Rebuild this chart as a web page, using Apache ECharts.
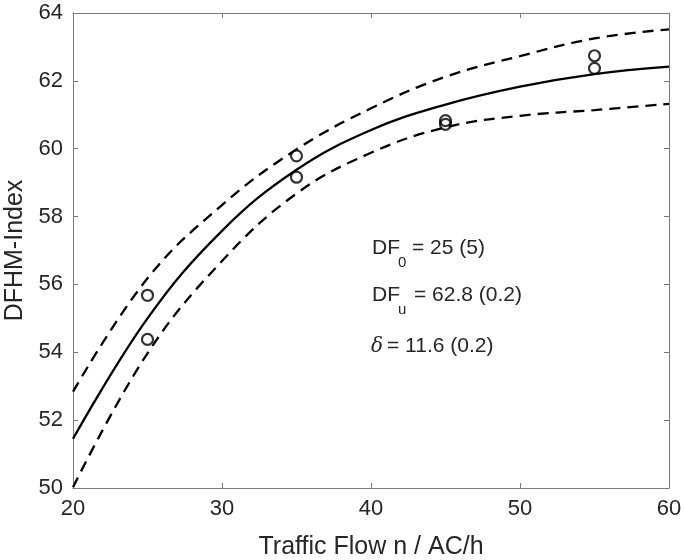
<!DOCTYPE html>
<html>
<head>
<meta charset="utf-8">
<script src="https://cdn.jsdelivr.net/npm/echarts@6/dist/echarts.min.js"></script>
<style>html,body{margin:0;padding:0;background:#fff}#c{width:685px;height:560px}</style>
</head>
<body>
<div id="c"></div>
<script>
const flowX = [20, 25, 30, 35, 40, 45, 50, 55, 60];
const fitMid = [51.45, 55.0, 57.58, 59.38, 60.55, 61.3, 61.83, 62.2, 62.42];
const fitUpper = [52.84, 56.18, 58.34, 59.98, 61.19, 62.12, 62.73, 63.25, 63.52];
const fitLower = [50.02, 53.97, 56.69, 58.68, 59.88, 60.63, 60.97, 61.14, 61.32];
const obsX = [25, 25, 35, 35, 45, 45, 55, 55];
const obsY = [55.68, 54.38, 59.79, 59.16, 60.83, 60.72, 62.74, 62.37];
const xTicks = [20, 30, 40, 50, 60];
const yTicks = [50, 52, 54, 56, 58, 60, 62, 64];
const xName = 'Traffic Flow n / AC/h';
const yName = 'DFHM-Index';
const params = [
  {main: 'DF', sub: '0', rest: '= 25 (5)'},
  {main: 'DF', sub: 'u', rest: '= 62.8 (0.2)'},
  {main: 'δ', sub: '', rest: '= 11.6 (0.2)'}
];

const pair = (xs, ys) => xs.map((x, i) => [x, ys[i]]);
const FONT = 'Liberation Sans, Arial, Helvetica, sans-serif';
const axisCol = '#7a7a7a';
const txtCol = '#262626';

const chart = echarts.init(document.getElementById('c'), null, {renderer: 'canvas'});

const baseX = {
  type: 'value', min: xTicks[0], max: xTicks[xTicks.length - 1], interval: 10,
  axisLine: {show: true, onZero: false, lineStyle: {color: axisCol, width: 1}},
  axisTick: {show: true, inside: true, length: 5, lineStyle: {color: axisCol}},
  splitLine: {show: false}
};
const baseY = {
  type: 'value', min: yTicks[0], max: yTicks[yTicks.length - 1], interval: 2,
  axisLine: {show: true, onZero: false, lineStyle: {color: axisCol, width: 1}},
  axisTick: {show: true, inside: true, length: 5, lineStyle: {color: axisCol}},
  splitLine: {show: false}
};

const graphics = [];
const rowY = [248, 295.5, 346];
params.forEach((p, i) => {
  const y = rowY[i];
  if (p.sub) {
    graphics.push({type: 'text', x: 372, y: y, style: {text: p.main, font: '21px ' + FONT, fill: txtCol, align: 'left', verticalAlign: 'middle'}});
    graphics.push({type: 'text', x: 398, y: y + (p.sub === 'u' ? 14 : 15), style: {text: p.sub, font: '15px ' + FONT, fill: txtCol, align: 'left', verticalAlign: 'middle'}});
    graphics.push({type: 'text', x: p.sub === 'u' ? 414 : 412, y: y, style: {text: p.rest, font: '21px ' + FONT, fill: txtCol, align: 'left', verticalAlign: 'middle'}});
  } else {
    graphics.push({type: 'text', x: 371, y: y + 1, style: {text: p.main, font: 'italic 20px "DejaVu Serif", "Liberation Serif", serif', fill: txtCol, align: 'left', verticalAlign: 'middle'}});
    graphics.push({type: 'text', x: 387, y: y, style: {text: p.rest, font: '21px ' + FONT, fill: txtCol, align: 'left', verticalAlign: 'middle'}});
  }
});

const lineBase = {type: 'line', smooth: 0.4, showSymbol: false, xAxisIndex: 0, yAxisIndex: 0};

chart.setOption({
  backgroundColor: '#ffffff',
  animation: false,
  grid: {left: 73, right: 16, top: 13, bottom: 72, containLabel: false, outerBoundsMode: 'none'},
  xAxis: [
    Object.assign({}, baseX, {
      position: 'bottom',
      name: xName, nameLocation: 'middle', nameGap: 47,
      nameTextStyle: {fontSize: 25, color: txtCol, fontFamily: FONT},
      axisLabel: {show: true, fontSize: 22, color: txtCol, fontFamily: FONT, margin: 10}
    }),
    Object.assign({}, baseX, {position: 'top', axisLabel: {show: false}})
  ],
  yAxis: [
    Object.assign({}, baseY, {
      position: 'left',
      name: yName, nameLocation: 'middle', nameGap: 45,
      nameTextStyle: {fontSize: 25, color: txtCol, fontFamily: FONT},
      axisLabel: {show: true, fontSize: 22, color: txtCol, fontFamily: FONT, margin: 10}
    }),
    Object.assign({}, baseY, {position: 'right', axisLabel: {show: false}})
  ],
  series: [
    Object.assign({}, lineBase, {data: pair(flowX, fitMid), lineStyle: {color: '#000', width: 2.3, type: 'solid'}}),
    Object.assign({}, lineBase, {data: pair(flowX, fitUpper), lineStyle: {color: '#000', width: 2.3, type: [11, 7]}}),
    Object.assign({}, lineBase, {data: pair(flowX, fitLower), lineStyle: {color: '#000', width: 2.3, type: [11, 7]}}),
    {type: 'scatter', data: pair(obsX, obsY), symbol: 'circle', symbolSize: 11, xAxisIndex: 0, yAxisIndex: 0,
     itemStyle: {color: 'rgba(0,0,0,0)', borderColor: '#000', borderWidth: 2.2}}
  ],
  graphic: graphics
});
</script>
</body>
</html>
